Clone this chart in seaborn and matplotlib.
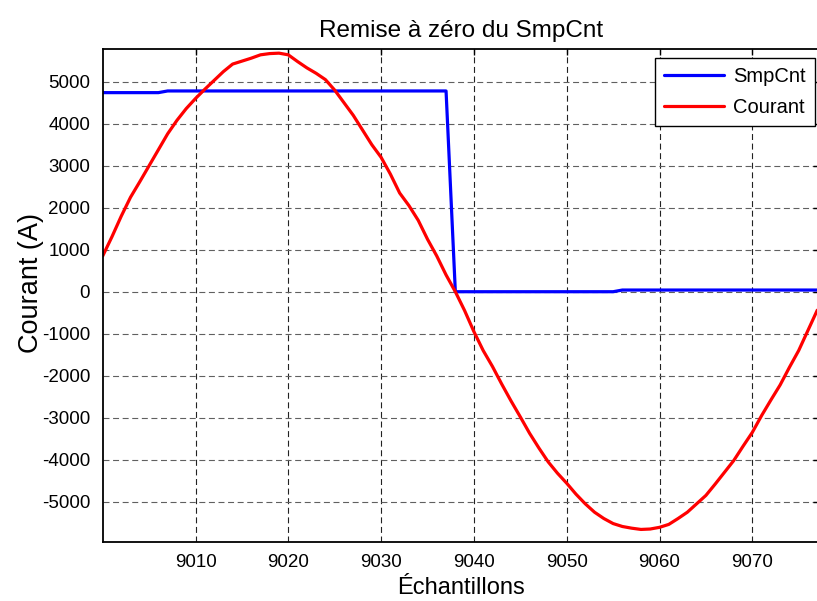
import numpy as np
import pandas as pd
import seaborn as sns
from matplotlib import pyplot as plt

# Samples
echantillons = list(range(9000, 9078))

# Courant (A)
courant = [
    850, 1310, 1800, 2250, 2620, 3000, 3380, 3760, 4080, 4360,
    4600, 4820, 5030, 5240, 5420, 5490, 5560, 5640, 5670, 5680,
    5640, 5480, 5330, 5200, 5050, 4800, 4500, 4200, 3850, 3500,
    3200, 2800, 2350, 2050, 1700, 1250, 850, 400, 0, -450,
    -950, -1400, -1780, -2200, -2600, -2980, -3370, -3720, -4050, -4320,
    -4560, -4820, -5050, -5250, -5400, -5520, -5590, -5630, -5660, -5650,
    -5610, -5540, -5400, -5250, -5050, -4850, -4580, -4300, -4020, -3680,
    -3350, -2950, -2580, -2220, -1800, -1400, -920, -440,
]

# SmpCnt
smpcnt = [4740] * 7 + [4780] * 31 + [0] * 18 + [40] * 22

xticks = [9010, 9020, 9030, 9040, 9050, 9060, 9070]
yticks = [-5000, -4000, -3000, -2000, -1000, 0, 1000, 2000, 3000, 4000, 5000]

df = pd.DataFrame({"Echantillons": echantillons, "SmpCnt": smpcnt, "Courant": courant})

sns.set_style("white")
plt.rcParams["font.family"] = ["Liberation Sans", "DejaVu Sans"]
plt.rcParams["lines.scale_dashes"] = False
plt.rcParams["axes.unicode_minus"] = False
for k in ["text.color", "axes.labelcolor", "xtick.color", "ytick.color"]:
    plt.rcParams[k] = "black"

fig = plt.figure(figsize=(8.17, 6.01), dpi=100)
ax = fig.add_axes([102.7 / 817, 59.3 / 601, (819 - 102.7) / 817, 492.7 / 601])

sns.lineplot(data=df, x="Echantillons", y="SmpCnt", ax=ax, color="#0000ff",
             lw=2.3, label="SmpCnt", estimator=None, sort=False)
sns.lineplot(data=df, x="Echantillons", y="Courant", ax=ax, color="#ff0000",
             lw=2.3, label="Courant", estimator=None, sort=False)

ax.set_xlim(9000, 9000 + (819 - 102.7) / 9.28)
ax.set_ylim(-5952, 5779)
ax.set_xticks(xticks)
ax.set_yticks(yticks)
ax.tick_params(direction="in", length=4, width=1, top=True, right=True,
               labelsize=13.5, pad=9, colors="black")

ax.xaxis.grid(True, color="#222222", lw=0.8, linestyle=(0, (4.3, 2.6)))
ax.yaxis.grid(True, color="#606060", lw=0.8, linestyle=(0, (4.3, 2.6)))
for s in ax.spines.values():
    s.set_color("black")
    s.set_linewidth(1.3)

ax.set_title("Remise à zéro du SmpCnt", fontsize=17.5, pad=9)
ax.set_xlabel("Échantillons", fontsize=17, labelpad=4)
ax.set_ylabel("Courant (A)", fontsize=19.5)
ax.yaxis.set_label_coords(-0.082, 0.525)

leg = ax.legend(loc="upper right", bbox_to_anchor=(815 / 817, 1 - 58 / 601),
                bbox_transform=fig.transFigure, borderaxespad=0, fontsize=14.5,
                handlelength=3.0, handletextpad=0.45, labelspacing=0.6,
                fancybox=False, framealpha=1, borderpad=0.45)
leg.get_frame().set_edgecolor("black")
leg.get_frame().set_linewidth(1.0)

fig.savefig("out.png", dpi=100)
